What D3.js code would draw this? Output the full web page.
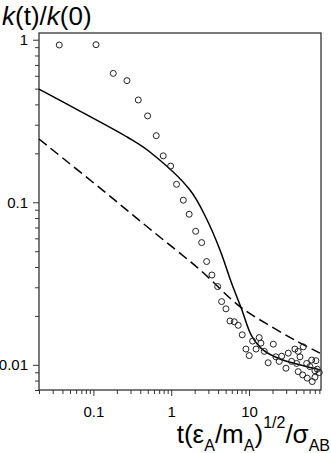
<!DOCTYPE html>
<html>
<head>
<meta charset="utf-8">
<script src="https://cdn.jsdelivr.net/npm/d3@7"></script>
<style>
  body { margin: 0; background: #fff; }
  svg { display: block; font-family: Arial, "Liberation Sans", sans-serif; }
</style>
</head>
<body>
<svg width="331" height="453"></svg>
<script>
// simulation points (open circles)
var simT = [0.0364, 0.108, 0.180, 0.270, 0.377, 0.497, 0.642, 0.789, 0.982, 1.17,
            1.43, 1.70, 2.06, 2.46, 2.85, 3.33, 3.95, 4.44, 5.05, 5.68,
            6.45, 7.26, 8.17, 9.12, 10.05, 11.1, 12.3, 13.5, 14.2, 15.7,
            17.6, 20.5, 22.1, 24.4, 26.2, 29.8, 31.9, 35.2, 38.8, 42.8,
            49.7, 45.1, 40.8, 55.0, 63.7, 72.3, 75.2, 60.5, 70.2, 42.8,
            48.8, 55.9, 64.8, 70.2, 79.8];
var simK = [0.928, 0.932, 0.621, 0.560, 0.426, 0.340, 0.257, 0.193, 0.167, 0.129,
            0.103, 0.0844, 0.0663, 0.0565, 0.0432, 0.0357, 0.0303, 0.0245, 0.0221, 0.0186,
            0.0184, 0.0175, 0.0153, 0.0125, 0.0114, 0.0140, 0.0125, 0.0147, 0.0136, 0.0121,
            0.0103, 0.0134, 0.0112, 0.0105, 0.0113, 0.00953, 0.0118, 0.0105, 0.0125, 0.0121,
            0.0129, 0.0112, 0.0102, 0.0102, 0.0107, 0.0106, 0.0094, 0.00976, 0.0092, 0.00908,
            0.00867, 0.00828, 0.00789, 0.00839, 0.00896];

// theory, solid line
var solidT = [0.02, 0.0671, 0.278, 0.532, 1.74, 2.85, 4.23, 5.97, 8.03, 10.8, 15.1, 24.9, 40.9, 81.4];
var solidK = [0.497, 0.364, 0.2503, 0.2038, 0.119, 0.0789, 0.0509, 0.0318, 0.022, 0.01506, 0.01235, 0.01087, 0.01013, 0.00931];

// theory, dashed line
var dashT = [0.02, 0.121, 0.532, 2.34, 7.64, 18.5, 40.9, 81.4];
var dashK = [0.245, 0.1225, 0.0685, 0.0384, 0.0228, 0.0174, 0.0140, 0.0118];

var xTicks = [0.1, 1, 10];
var yTicks = [0.01, 0.1, 1];

var svg = d3.select("svg");

var x = d3.scaleLog().domain([0.02, 84]).range([39, 321]);
var y = d3.scaleLog().domain([1.1, 0.007]).range([33, 390]);

var fmt = function(d) { return String(d); };

// minor ticks
var xMinor = x.ticks().filter(function(d){ return xTicks.indexOf(d) < 0; });
var yMinor = y.ticks().filter(function(d){ return yTicks.indexOf(d) < 0; });

var axisColor = "#333";

// x axis
var gx = svg.append("g").attr("transform", "translate(0,390)");
gx.call(d3.axisBottom(x).tickValues(xMinor).tickSize(4).tickFormat(""));
gx.append("g").call(d3.axisBottom(x).tickValues(xTicks).tickSize(6).tickFormat(fmt));

// y axis
var gy = svg.append("g").attr("transform", "translate(39,0)");
gy.call(d3.axisLeft(y).tickValues(yMinor).tickSize(4).tickFormat(""));
gy.append("g").call(d3.axisLeft(y).tickValues(yTicks).tickSize(6).tickFormat(fmt));

svg.selectAll(".domain").remove();
svg.selectAll(".tick line").attr("stroke", axisColor).attr("stroke-width", 1);
svg.selectAll(".tick text")
  .attr("fill", "#000")
  .style("font-size", "15px")
  .style("font-family", "Arial, 'Liberation Sans', sans-serif");
gx.selectAll(".tick text").attr("dy", "1.2em");
gy.selectAll(".tick text").attr("x", -11);

// frame
svg.append("rect")
  .attr("x", 39).attr("y", 33)
  .attr("width", 282).attr("height", 357)
  .attr("fill", "none")
  .attr("stroke", axisColor)
  .attr("stroke-width", 1.3);

// lines
var line = d3.line()
  .x(function(d){ return x(d[0]); })
  .y(function(d){ return y(d[1]); })
  .curve(d3.curveCatmullRom.alpha(0.5));

svg.append("path")
  .datum(solidT.map(function(t, i){ return [t, solidK[i]]; }))
  .attr("d", line)
  .attr("fill", "none")
  .attr("stroke", "#000")
  .attr("stroke-width", 1.5);

svg.append("path")
  .datum(dashT.map(function(t, i){ return [t, dashK[i]]; }))
  .attr("d", line)
  .attr("fill", "none")
  .attr("stroke", "#000")
  .attr("stroke-width", 1.5)
  .attr("stroke-dasharray", "10,5");

// circles
svg.selectAll(".pt")
  .data(simT.map(function(t, i){ return [t, simK[i]]; }))
  .enter()
  .append("circle")
    .attr("class", "pt")
    .attr("cx", function(d){ return x(d[0]); })
    .attr("cy", function(d){ return y(d[1]); })
    .attr("r", 3)
    .attr("fill", "none")
    .attr("stroke", "#222")
    .attr("stroke-width", 1);

// y title
var yt = svg.append("text")
  .attr("x", 2).attr("y", 24.5)
  .style("font-size", "26px")
  .attr("fill", "#000");
yt.append("tspan").style("font-style", "italic").text("k");
yt.append("tspan").text("(t)/");
yt.append("tspan").style("font-style", "italic").text("k");
yt.append("tspan").text("(0)");

// x title
var xt = svg.append("text")
  .attr("x", 330).attr("y", 443)
  .attr("text-anchor", "end")
  .style("font-size", "26px")
  .attr("fill", "#000");
xt.append("tspan").text("t(ε");
xt.append("tspan").attr("dy", 8).style("font-size", "16px").text("A");
xt.append("tspan").attr("dy", -8).text("/m");
xt.append("tspan").attr("dy", 8).style("font-size", "16px").text("A");
xt.append("tspan").attr("dy", -8).text(")");
xt.append("tspan").attr("dy", -15).style("font-size", "16px").text("1/2");
xt.append("tspan").attr("dy", 15).text("/σ");
xt.append("tspan").attr("dy", 8).style("font-size", "16px").text("AB");
</script>
</body>
</html>
